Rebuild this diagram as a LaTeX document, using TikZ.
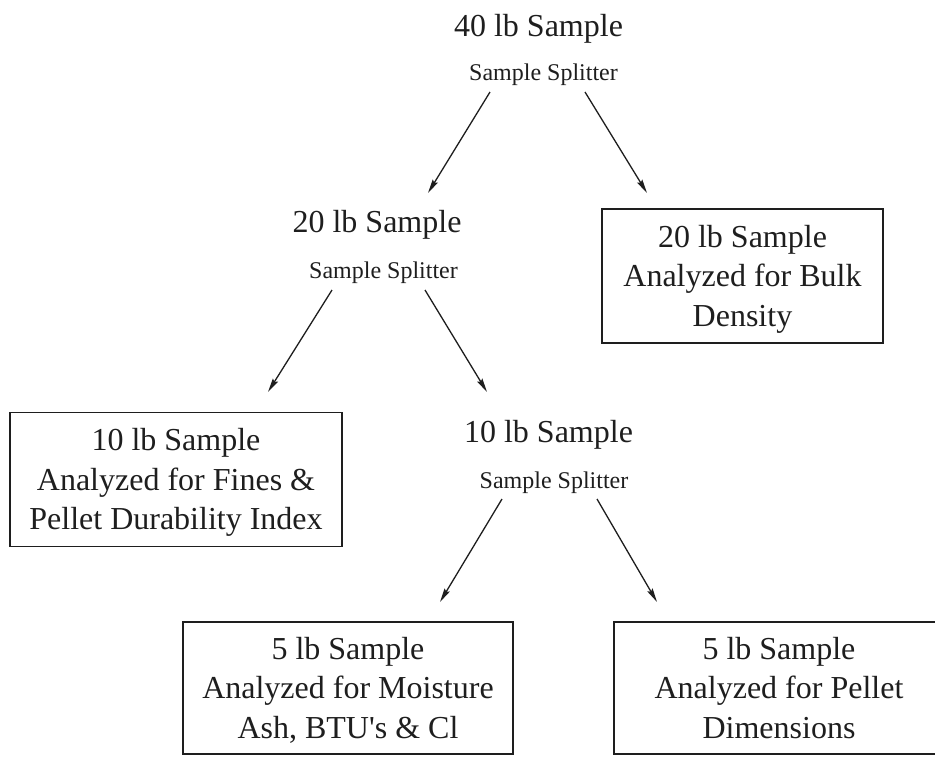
\documentclass[tikz,border=0pt]{standalone}
\usepackage{fontspec}
\setmainfont{Liberation Serif}
\newfontfamily\plainrm{Liberation Serif}[Ligatures=TeXOff]
\usetikzlibrary{arrows.meta}
\definecolor{ink}{HTML}{1E1E1E}
\begin{document}
\begin{tikzpicture}[x=1pt,y=-1pt,
  lbl/.style={font=\fontsize{32}{39.5}\selectfont, inner sep=0pt, anchor=base, text=ink},
  spl/.style={font=\fontsize{24}{28}\selectfont, inner sep=0pt, anchor=base, text=ink},
  resbox/.style={draw=ink, line width=1.4pt, inner sep=0pt, align=center,
    font=\fontsize{32}{39.5}\selectfont, text=ink},
  conn/.style={draw=ink, line width=1.3pt, -{Stealth[length=14pt,width=6pt,inset=2pt]}}]
\useasboundingbox (0,0) rectangle (935,756);

% level 1
\node[lbl] (n40) at (538.5,36) {40 lb Sample};
\node[spl] (sp1) at (543.5,80) {Sample Splitter};
\coordinate (a1ls) at (490,92);  \coordinate (a1le) at (428,193);
\coordinate (a1rs) at (585,92);  \coordinate (a1re) at (647,193);

% level 2
\node[lbl] (n20) at (377,232) {20 lb Sample};
\node[spl] (sp2) at (383.5,278) {Sample Splitter};
\node[resbox, minimum width=281pt, minimum height=134pt] (bulk) at (742.5,276)
  {\rule{0pt}{30pt}20 lb Sample\\Analyzed for Bulk\\Density\rule[-9pt]{0pt}{9pt}};
\coordinate (a2ls) at (332,290);  \coordinate (a2le) at (268,392);
\coordinate (a2rs) at (425,290);  \coordinate (a2re) at (487,392);

% level 3
\node[resbox, minimum width=332pt, minimum height=134pt] (fines) at (176,479.7)
  {\rule{0pt}{30pt}10 lb Sample\\Analyzed for Fines \&\\Pellet Durability Index\rule[-9pt]{0pt}{9pt}};
\node[lbl] (n10) at (548.5,442) {10 lb Sample};
\node[spl] (sp3) at (554,488) {Sample Splitter};
\coordinate (a3ls) at (502,499);  \coordinate (a3le) at (440,602);
\coordinate (a3rs) at (597,499);  \coordinate (a3re) at (657,602);

% level 4
\node[resbox, minimum width=330pt, minimum height=132pt] (moist) at (348,688)
  {\rule{0pt}{30pt}5 lb Sample\\Analyzed for Moisture\\Ash, BTU{\plainrm '}s \& Cl\rule[-9pt]{0pt}{9pt}};
\node[resbox, minimum width=330pt, minimum height=132pt] (dims) at (779,688)
  {\rule{0pt}{30pt}5 lb Sample\\Analyzed for Pellet\\Dimensions\rule[-9pt]{0pt}{9pt}};

% connectors
\draw[conn] (a1ls) -- (a1le);
\draw[conn] (a1rs) -- (a1re);
\draw[conn] (a2ls) -- (a2le);
\draw[conn] (a2rs) -- (a2re);
\draw[conn] (a3ls) -- (a3le);
\draw[conn] (a3rs) -- (a3re);
\end{tikzpicture}
\end{document}
